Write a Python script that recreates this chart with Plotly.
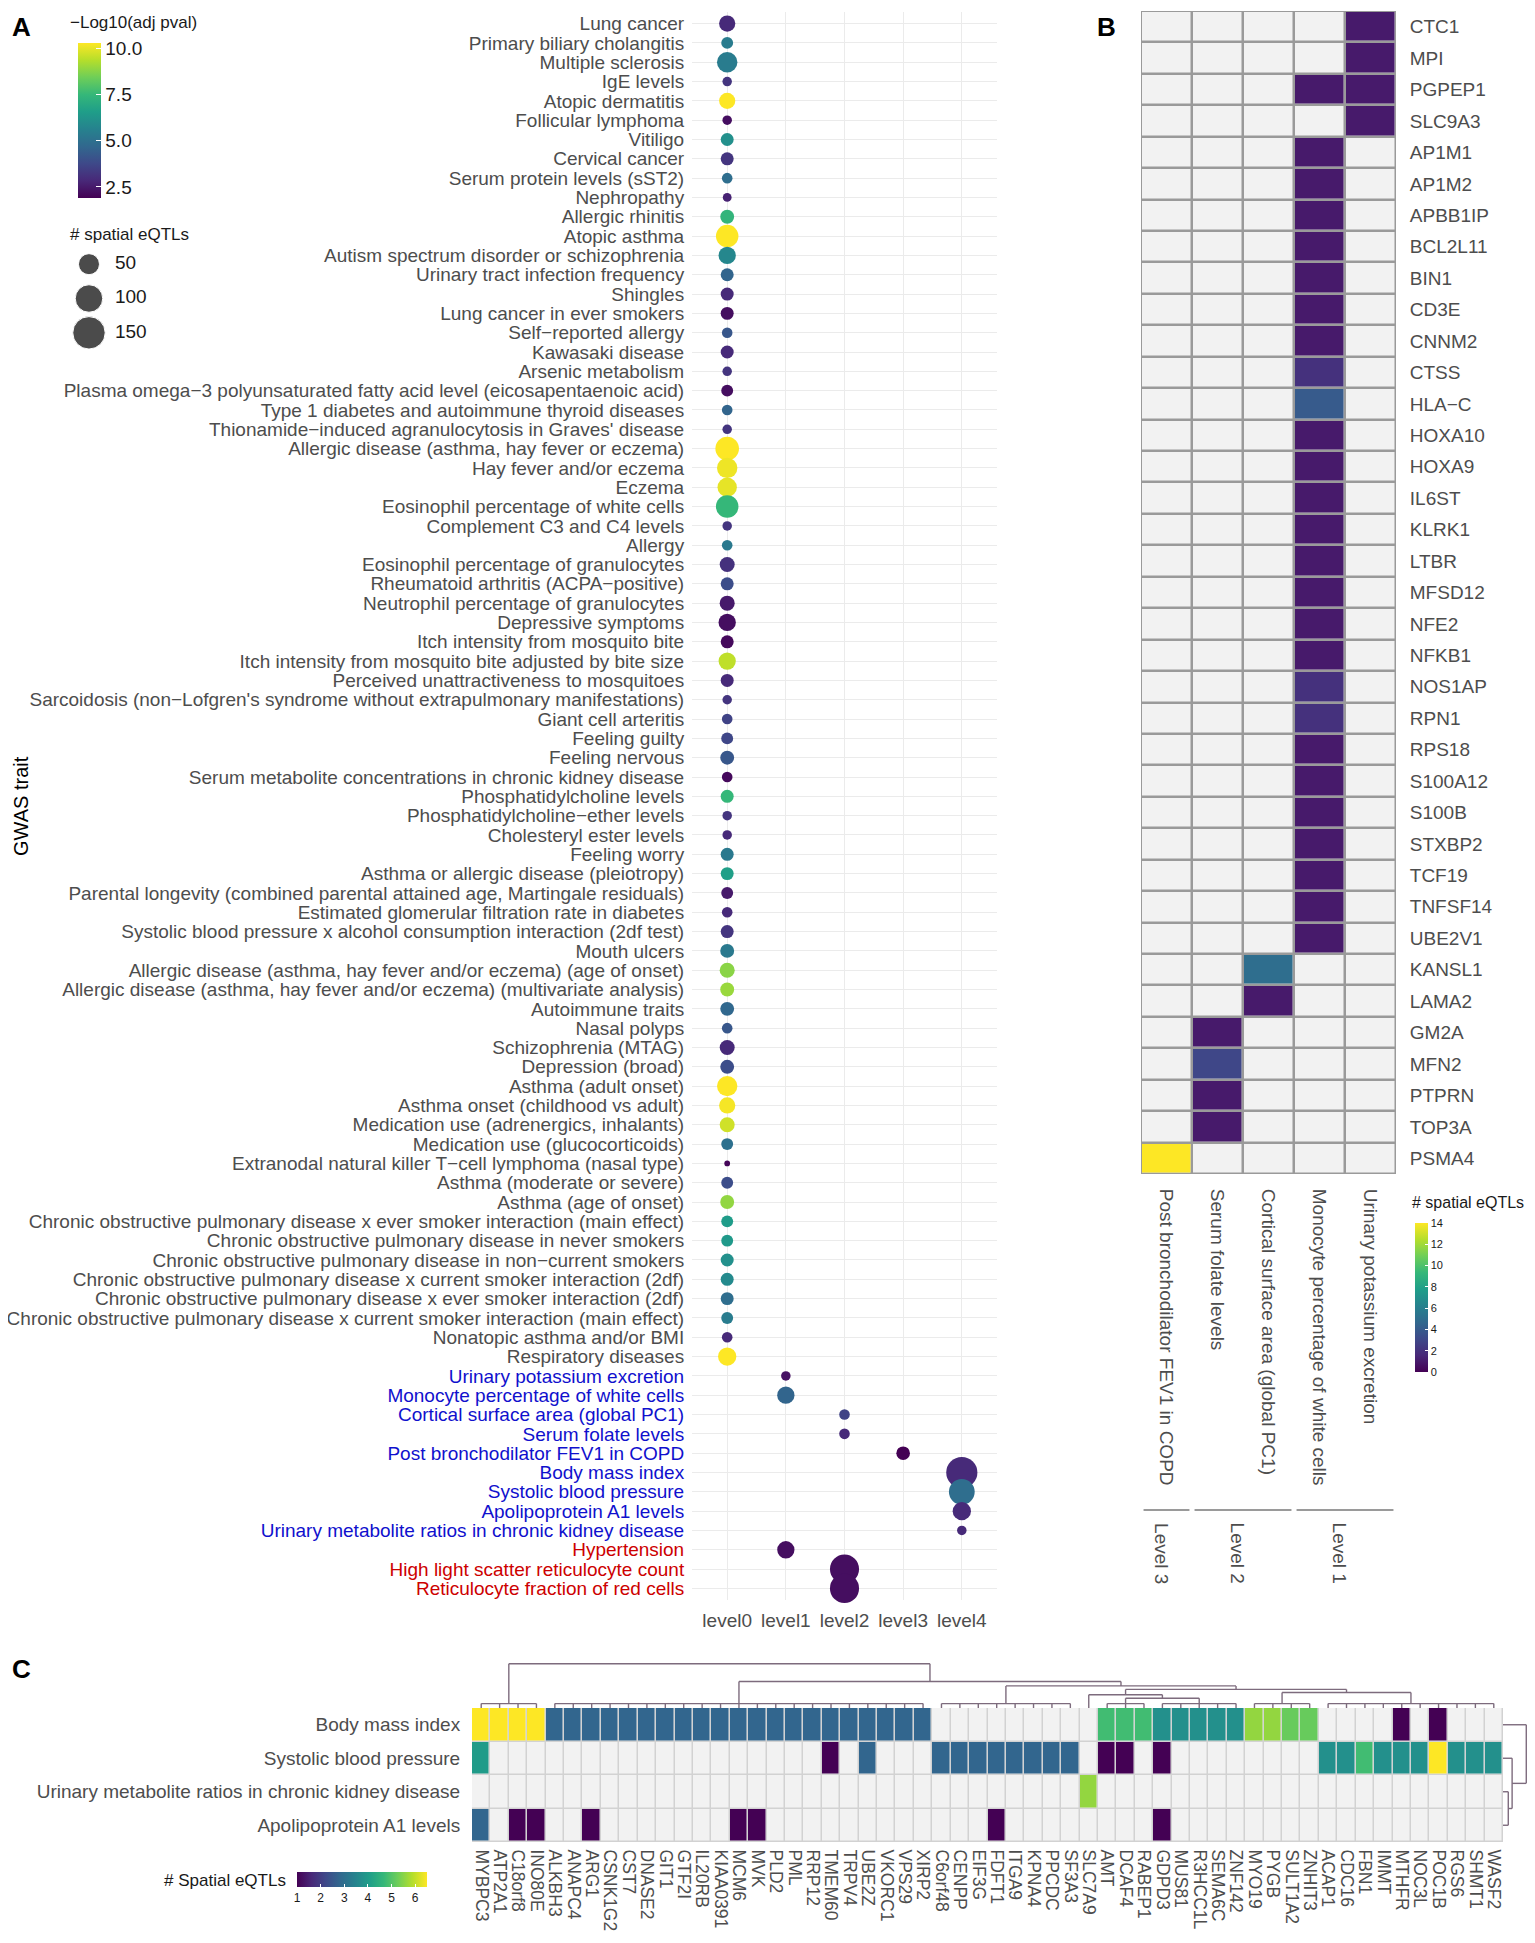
import math
import plotly.graph_objects as go

PAGE_W, PAGE_H = 1535, 1943
BODY = 8  # default page margin around the plot
W, H = PAGE_W - 2 * BODY, PAGE_H - 2 * BODY
FONT = "Liberation Sans"
GREY_TXT = "#4d4d4d"


def fx(x):
    return (x - BODY) / W


def fy(y):
    return 1 - (y - BODY) / H


# ---------------- Panel A data ----------------
traits = [
    "Lung cancer", "Primary biliary cholangitis", "Multiple sclerosis", "IgE levels",
    "Atopic dermatitis", "Follicular lymphoma", "Vitiligo", "Cervical cancer",
    "Serum protein levels (sST2)", "Nephropathy", "Allergic rhinitis", "Atopic asthma",
    "Autism spectrum disorder or schizophrenia", "Urinary tract infection frequency",
    "Shingles", "Lung cancer in ever smokers", "Self\u2212reported allergy", "Kawasaki disease",
    "Arsenic metabolism",
    "Plasma omega\u22123 polyunsaturated fatty acid level (eicosapentaenoic acid)",
    "Type 1 diabetes and autoimmune thyroid diseases",
    "Thionamide\u2212induced agranulocytosis in Graves' disease",
    "Allergic disease (asthma, hay fever or eczema)", "Hay fever and/or eczema", "Eczema",
    "Eosinophil percentage of white cells", "Complement C3 and C4 levels", "Allergy",
    "Eosinophil percentage of granulocytes", "Rheumatoid arthritis (ACPA\u2212positive)",
    "Neutrophil percentage of granulocytes", "Depressive symptoms",
    "Itch intensity from mosquito bite",
    "Itch intensity from mosquito bite adjusted by bite size",
    "Perceived unattractiveness to mosquitoes",
    "Sarcoidosis (non\u2212Lofgren's syndrome without extrapulmonary manifestations)",
    "Giant cell arteritis", "Feeling guilty", "Feeling nervous",
    "Serum metabolite concentrations in chronic kidney disease",
    "Phosphatidylcholine levels", "Phosphatidylcholine\u2212ether levels",
    "Cholesteryl ester levels", "Feeling worry", "Asthma or allergic disease (pleiotropy)",
    "Parental longevity (combined parental attained age, Martingale residuals)",
    "Estimated glomerular filtration rate in diabetes",
    "Systolic blood pressure x alcohol consumption interaction (2df test)",
    "Mouth ulcers",
    "Allergic disease (asthma, hay fever and/or eczema) (age of onset)",
    "Allergic disease (asthma, hay fever and/or eczema) (multivariate analysis)",
    "Autoimmune traits", "Nasal polyps", "Schizophrenia (MTAG)", "Depression (broad)",
    "Asthma (adult onset)", "Asthma onset (childhood vs adult)",
    "Medication use (adrenergics, inhalants)", "Medication use (glucocorticoids)",
    "Extranodal natural killer T\u2212cell lymphoma (nasal type)",
    "Asthma (moderate or severe)", "Asthma (age of onset)",
    "Chronic obstructive pulmonary disease x ever smoker interaction (main effect)",
    "Chronic obstructive pulmonary disease in never smokers",
    "Chronic obstructive pulmonary disease in non\u2212current smokers",
    "Chronic obstructive pulmonary disease x current smoker interaction (2df)",
    "Chronic obstructive pulmonary disease x ever smoker interaction (2df)",
    "Chronic obstructive pulmonary disease x current smoker interaction (main effect)",
    "Nonatopic asthma and/or BMI", "Respiratory diseases",
    "Urinary potassium excretion", "Monocyte percentage of white cells",
    "Cortical surface area (global PC1)", "Serum folate levels",
    "Post bronchodilator FEV1 in COPD", "Body mass index", "Systolic blood pressure",
    "Apolipoprotein A1 levels", "Urinary metabolite ratios in chronic kidney disease",
    "Hypertension", "High light scatter reticulocyte count",
    "Reticulocyte fraction of red cells",
]

trait_class = ["other"] * 70 + ["blue"] * 9 + ["red"] * 3

levels = ["level0", "level1", "level2", "level3", "level4"]
trait_level = [0] * 70 + [1, 1, 2, 2, 3, 4, 4, 4, 4, 1, 2, 2]

n_eqtl = [
    24, 9, 46, 4, 24, 4, 12, 12, 6, 3, 15, 60, 29, 12, 12, 12, 6, 12, 4, 9, 6, 4,
    68, 46, 40, 60, 4, 6, 19, 12, 19, 29, 12, 29, 12, 4, 6, 9, 15, 6, 12, 4, 4,
    12, 12, 9, 6, 12, 15, 19, 15, 15, 6, 19, 15, 46, 24, 19, 9, 1, 9, 15, 9, 9,
    12, 12, 12, 9, 6, 34,
    4, 29, 6, 6, 14, 136, 85, 34, 4, 29, 115, 115,
]

neg_log10_p = [
    2.9, 5.4, 5.4, 3.2, 10.3, 2.2, 6.1, 3.2, 4.9, 2.7, 7.4, 10.3, 5.8, 4.6, 2.9,
    2.2, 4.2, 2.9, 3.2, 2.2, 4.6, 3.2, 10.3, 10.1, 10.0, 7.5, 3.2, 5.3, 3.1, 3.9,
    2.5, 2.2, 2.1, 9.5, 2.9, 3.2, 3.6, 3.7, 4.2, 2.1, 7.5, 3.2, 2.9, 5.3, 6.6,
    2.5, 2.9, 3.2, 5.3, 8.8, 9.0, 4.7, 4.2, 2.9, 3.9, 10.3, 10.2, 9.7, 5.0, 2.0,
    3.9, 8.9, 6.5, 6.4, 6.1, 5.9, 4.9, 5.4, 2.9, 10.3,
    2.3, 4.6, 3.6, 2.9, 1.9, 2.9, 4.9, 2.9, 2.9, 2.2, 2.2, 2.2,
]

size_legend_values = [50, 100, 150]
colorbar_A_ticks = [2.5, 5.0, 7.5, 10.0]

# ---------------- Panel B data ----------------
B_traits = [
    "Post bronchodilator FEV1 in COPD", "Serum folate levels",
    "Cortical surface area (global PC1)", "Monocyte percentage of white cells",
    "Urinary potassium excretion",
]
B_genes = [
    "CTC1", "MPI", "PGPEP1", "SLC9A3", "AP1M1", "AP1M2", "APBB1IP", "BCL2L11", "BIN1",
    "CD3E", "CNNM2", "CTSS", "HLA\u2212C", "HOXA10", "HOXA9", "IL6ST", "KLRK1", "LTBR",
    "MFSD12", "NFE2", "NFKB1", "NOS1AP", "RPN1", "RPS18", "S100A12", "S100B", "STXBP2",
    "TCF19", "TNFSF14", "UBE2V1", "KANSL1", "LAMA2", "GM2A", "MFN2", "PTPRN", "TOP3A",
    "PSMA4",
]
B_post_bronch = {"PSMA4": 14}
B_serum_folate = {"GM2A": 1, "MFN2": 3, "PTPRN": 1, "TOP3A": 1}
B_cortical = {"KANSL1": 5, "LAMA2": 1}
B_monocyte = {
    "PGPEP1": 1, "AP1M1": 1, "AP1M2": 1, "APBB1IP": 1, "BCL2L11": 1, "BIN1": 1,
    "CD3E": 1, "CNNM2": 1, "CTSS": 2, "HLA\u2212C": 4, "HOXA10": 1, "HOXA9": 1,
    "IL6ST": 1, "KLRK1": 1, "LTBR": 1, "MFSD12": 1, "NFE2": 1, "NFKB1": 1,
    "NOS1AP": 2, "RPN1": 2, "RPS18": 1, "S100A12": 1, "S100B": 1, "STXBP2": 1,
    "TCF19": 1, "TNFSF14": 1, "UBE2V1": 1,
}
B_urinary_k = {"CTC1": 1, "MPI": 1, "PGPEP1": 1, "SLC9A3": 1}
B_columns = [B_post_bronch, B_serum_folate, B_cortical, B_monocyte, B_urinary_k]
B_level_groups = [("Level 3", [0]), ("Level 2", [1, 2]), ("Level 1", [3, 4])]
B_ticks = [0, 2, 4, 6, 8, 10, 12, 14]

# ---------------- Panel C data ----------------
C_rows = [
    "Body mass index", "Systolic blood pressure",
    "Urinary metabolite ratios in chronic kidney disease", "Apolipoprotein A1 levels",
]
C_genes = [
    "MYBPC3", "ATP2A1", "C18orf8", "INO80E", "ALKBH3", "ANAPC4", "ARG1", "CSNK1G2",
    "CST7", "DNASE2", "GIT1", "GTF2I", "IL20RB", "KIAA0391", "MCM6", "MVK", "PLD2",
    "PML", "RRP12", "TMEM60", "TRPV4", "UBE2Z", "VKORC1", "VPS29", "XIRP2", "C6orf48",
    "CENPP", "EIF3G", "FDFT1", "ITGA9", "KPNA4", "PPCDC", "SF3A3", "SLC7A9", "AMT",
    "DCAF4", "RABEP1", "GDPD3", "MUS81", "R3HCC1L", "SEMA6C", "ZNF142", "MYO19",
    "PYGB", "SULT1A2", "ZNHIT3", "ACAP1", "CDC16", "FBN1", "IMMT", "MTHFR", "NOC3L",
    "POC1B", "RGS6", "SHMT1", "WASF2",
]
C_bmi = {
    "MYBPC3": 6.5, "ATP2A1": 6.5, "C18orf8": 6.5, "INO80E": 6.5,
    "ALKBH3": 2.8, "ANAPC4": 2.8, "ARG1": 2.8, "CSNK1G2": 2.8, "CST7": 2.8,
    "DNASE2": 2.8, "GIT1": 2.8, "GTF2I": 2.8, "IL20RB": 2.8, "KIAA0391": 2.8,
    "MCM6": 2.8, "MVK": 2.8, "PLD2": 2.8, "PML": 2.8, "RRP12": 2.8, "TMEM60": 2.8,
    "TRPV4": 2.8, "UBE2Z": 2.8, "VKORC1": 2.8, "VPS29": 2.8, "XIRP2": 2.8,
    "AMT": 4.8, "DCAF4": 4.8, "RABEP1": 4.8,
    "GDPD3": 3.75, "MUS81": 3.75, "R3HCC1L": 3.75, "SEMA6C": 3.75, "ZNF142": 3.75,
    "MYO19": 5.6, "PYGB": 5.6, "SULT1A2": 5.2, "ZNHIT3": 5.2,
    "MTHFR": 1, "POC1B": 1,
}
C_sbp = {
    "MYBPC3": 4.0, "TMEM60": 1, "UBE2Z": 2.8,
    "C6orf48": 2.8, "CENPP": 2.8, "EIF3G": 2.8, "FDFT1": 2.8, "ITGA9": 2.8,
    "KPNA4": 2.8, "PPCDC": 2.8, "SF3A3": 2.8,
    "AMT": 1, "DCAF4": 1, "GDPD3": 1,
    "ACAP1": 3.75, "CDC16": 3.75, "FBN1": 4.8, "IMMT": 3.75, "MTHFR": 3.75,
    "NOC3L": 3.75, "POC1B": 6.5, "RGS6": 3.75, "SHMT1": 3.75, "WASF2": 3.75,
}
C_urinary = {"SLC7A9": 5.6}
C_apoa1 = {
    "MYBPC3": 2.8, "C18orf8": 1, "INO80E": 1, "ARG1": 1, "MCM6": 1, "MVK": 1,
    "FDFT1": 1, "GDPD3": 1,
}
C_row_values = [C_bmi, C_sbp, C_urinary, C_apoa1]
C_ticks = [1, 2, 3, 4, 5, 6]

# dendrogram topology: [merge height, child, child, ...]; ints are leaf indices
C_col_tree = [
    1.0,
    [0.1, 0, 1, 2, 3],
    [0.6,
     [0.1] + list(range(4, 25)),
     [0.5,
      [0.1] + list(range(25, 33)),
      [0.42,
       [0.3, 33, [0.22, [0.1, 34, 35, 36], [0.1] + list(range(37, 42))]],
       [0.35, [0.1] + list(range(42, 46)), [0.1] + list(range(46, 56))]]]],
]
C_row_tree = [0.97, 0, [0.38, 1, [0.22, 2, 3]]]

# ---------------- helpers ----------------
SIZE_MIN, SIZE_MAX = 1, 170


def dot_diameter(v):
    s = math.sqrt(max(v - SIZE_MIN, 0) / (SIZE_MAX - SIZE_MIN))
    return 5.7 * (1 + 5 * s)


def dendro(node):
    if isinstance(node, int):
        return node, 0.0, []
    h = node[0]
    segs, centers = [], []
    for ch in node[1:]:
        c, ch_h, s = dendro(ch)
        segs += s
        segs.append(((c, ch_h), (c, h)))
        centers.append(c)
    segs.append(((min(centers), h), (max(centers), h)))
    return (centers[0] + centers[-1]) / 2, h, segs


def seg_xy(segs, swap=False):
    xs, ys = [], []
    for (a, b), (c, d) in segs:
        if swap:
            xs += [b, d, None]
            ys += [a, c, None]
        else:
            xs += [a, c, None]
            ys += [b, d, None]
    return xs, ys


color_map = {"other": GREY_TXT, "blue": "#1010cd", "red": "#cd0000"}
ticktext_A = [
    f'<span style="color:{color_map[c]}">{t}</span>' for t, c in zip(traits, trait_class)
]

fig = go.Figure()

# Panel A dots
fig.add_trace(go.Scatter(
    x=trait_level, y=list(range(1, len(traits) + 1)), mode="markers",
    marker=dict(
        size=[dot_diameter(v) for v in n_eqtl], color=neg_log10_p,
        colorscale="Viridis", cmin=1.9, cmax=10.3, line=dict(width=0), opacity=1,
        colorbar=dict(
            x=fx(78), xanchor="left", y=fy(43), yanchor="top", len=155,
            lenmode="pixels", thickness=23, xpad=0, ypad=0, outlinewidth=0,
            tickvals=colorbar_A_ticks, ticktext=[f"{v:.1f}" for v in colorbar_A_ticks],
            ticks="inside", tickcolor="white", ticklen=5,
            tickfont=dict(size=19, color="#1a1a1a", family=FONT),
        ),
    ),
    xaxis="x", yaxis="y", showlegend=False, hoverinfo="skip", cliponaxis=False,
))

# Panel A size legend
fig.add_trace(go.Scatter(
    x=[0.146] * 3, y=list(range(len(size_legend_values))), mode="markers",
    marker=dict(size=[dot_diameter(v) for v in size_legend_values], color="black"),
    xaxis="x2", yaxis="y2", showlegend=False, hoverinfo="skip", cliponaxis=False,
))
fig.add_trace(go.Scatter(
    x=[0.346] * 3, y=list(range(len(size_legend_values))), mode="text",
    text=[str(v) for v in size_legend_values], textposition="middle right",
    textfont=dict(size=19, color="#1a1a1a", family=FONT),
    xaxis="x2", yaxis="y2", showlegend=False, hoverinfo="skip", cliponaxis=False,
))

# Panel B heatmap
zB = [[col.get(g) for col in B_columns] for g in B_genes]
fig.add_trace(go.Heatmap(
    z=[[0] * len(B_traits) for _ in B_genes], x=list(range(len(B_traits))),
    y=list(range(len(B_genes))), colorscale=[[0, "#f2f2f2"], [1, "#f2f2f2"]],
    showscale=False, xgap=2.5, ygap=2.5, xaxis="x3", yaxis="y3", hoverinfo="skip",
))
fig.add_trace(go.Heatmap(
    z=zB, x=list(range(len(B_traits))), y=list(range(len(B_genes))),
    colorscale="Viridis", zmin=0, zmax=14, xgap=2.5, ygap=2.5,
    xaxis="x3", yaxis="y3", hoverinfo="skip",
    colorbar=dict(
        x=fx(1415), xanchor="left", y=fy(1223), yanchor="top", len=149,
        lenmode="pixels", thickness=13, xpad=0, ypad=0, outlinewidth=0,
        tickvals=B_ticks, ticks="inside", tickcolor="white", ticklen=3,
        tickfont=dict(size=11, color="#1a1a1a", family=FONT),
    ),
))

# Panel C heatmap
zC = [[row.get(g) for g in C_genes] for row in C_row_values]
fig.add_trace(go.Heatmap(
    z=[[0] * len(C_genes) for _ in C_rows], x=list(range(len(C_genes))),
    y=list(range(len(C_rows))), colorscale=[[0, "#f2f2f2"], [1, "#f2f2f2"]],
    showscale=False, xgap=1.5, ygap=1.5, xaxis="x4", yaxis="y4", hoverinfo="skip",
))
fig.add_trace(go.Heatmap(
    z=zC, x=list(range(len(C_genes))), y=list(range(len(C_rows))),
    colorscale="Viridis", zmin=1, zmax=6.5, xgap=1.5, ygap=1.5,
    xaxis="x4", yaxis="y4", hoverinfo="skip",
    colorbar=dict(
        orientation="h", x=fx(297), xanchor="left", y=fy(1872), yanchor="top",
        len=130, lenmode="pixels", thickness=15, xpad=0, ypad=0, outlinewidth=0,
        tickvals=C_ticks, ticks="inside", tickcolor="white", ticklen=3,
        tickfont=dict(size=12, color="#1a1a1a", family=FONT),
    ),
))

# Panel C dendrograms
_, _, col_segs = dendro(C_col_tree)
dx, dy = seg_xy(col_segs)
fig.add_trace(go.Scatter(
    x=dx, y=dy, mode="lines", line=dict(color="#7d6b7d", width=1.4),
    xaxis="x5", yaxis="y5", showlegend=False, hoverinfo="skip", cliponaxis=False,
))
_, _, row_segs = dendro(C_row_tree)
rx, ry = seg_xy(row_segs, swap=True)
fig.add_trace(go.Scatter(
    x=rx, y=ry, mode="lines", line=dict(color="#7d6b7d", width=1.4),
    xaxis="x6", yaxis="y6", showlegend=False, hoverinfo="skip", cliponaxis=False,
))

tick_font = dict(size=19, color=GREY_TXT, family=FONT)
tick_font_c = dict(size=17.5, color=GREY_TXT, family=FONT)
hidden = dict(visible=False, fixedrange=True)

layout = dict(
    width=W, height=H, margin=dict(l=0, r=0, t=0, b=0),
    paper_bgcolor="white", plot_bgcolor="white",
    font=dict(family=FONT, color="#1a1a1a"),
    xaxis=dict(
        domain=[fx(692), fx(997)], range=[-0.6, 4.6], tickvals=list(range(5)),
        ticktext=levels, showgrid=True, gridcolor="#ebebeb", gridwidth=1.3,
        zeroline=False, ticks="outside", ticklen=3, tickcolor="rgba(0,0,0,0)",
        tickfont=tick_font, anchor="y", automargin=False, fixedrange=True,
    ),
    yaxis=dict(
        domain=[fy(1600), fy(12)], range=[len(traits) + 0.6, 0.4],
        tickvals=list(range(1, len(traits) + 1)), ticktext=ticktext_A,
        showgrid=True, gridcolor="#ebebeb", gridwidth=1.3, zeroline=False,
        ticks="outside", ticklen=3, tickcolor="rgba(0,0,0,0)",
        tickfont=tick_font, anchor="x", automargin=False, fixedrange=True,
    ),
    xaxis2=dict(domain=[fx(70), fx(200)], range=[0, 1], anchor="y2", **hidden),
    yaxis2=dict(domain=[fy(350), fy(247)], range=[2.5, -0.5], anchor="x2", **hidden),
    xaxis3=dict(
        domain=[fx(1141), fx(1396)], range=[-0.5, 4.5], tickvals=list(range(5)),
        ticktext=B_traits, tickangle=90, showgrid=False, zeroline=False,
        ticks="outside", ticklen=10, tickcolor="rgba(0,0,0,0)", tickfont=tick_font,
        anchor="y3", automargin=False, fixedrange=True,
    ),
    yaxis3=dict(
        domain=[fy(1174), fy(11)], range=[len(B_genes) - 0.5, -0.5],
        tickvals=list(range(len(B_genes))), ticktext=B_genes, side="right",
        showgrid=False, zeroline=False, ticks="outside", ticklen=9,
        tickcolor="rgba(0,0,0,0)", tickfont=tick_font, anchor="x3",
        automargin=False, fixedrange=True,
    ),
    xaxis4=dict(
        domain=[fx(472), fx(1503)], range=[-0.5, len(C_genes) - 0.5],
        tickvals=list(range(len(C_genes))), ticktext=C_genes, tickangle=90,
        showgrid=False, zeroline=False, ticks="outside", ticklen=3,
        tickcolor="rgba(0,0,0,0)", tickfont=tick_font_c, anchor="y4",
        automargin=False, fixedrange=True,
    ),
    yaxis4=dict(
        domain=[fy(1842), fy(1708)], range=[len(C_rows) - 0.5, -0.5],
        tickvals=list(range(len(C_rows))), ticktext=C_rows, showgrid=False,
        zeroline=False, ticks="outside", ticklen=7, tickcolor="rgba(0,0,0,0)",
        tickfont=tick_font, anchor="x4", automargin=False, fixedrange=True,
    ),
    xaxis5=dict(domain=[fx(472), fx(1503)], range=[-0.5, len(C_genes) - 0.5],
                anchor="y5", **hidden),
    yaxis5=dict(domain=[fy(1708), fy(1662)], range=[0, 1.04], anchor="x5", **hidden),
    xaxis6=dict(domain=[fx(1503), 1.0], range=[0, 1.0], anchor="y6", **hidden),
    yaxis6=dict(domain=[fy(1842), fy(1708)], range=[len(C_rows) - 0.5, -0.5],
                anchor="x6", **hidden),
)

shapes = [
    dict(type="rect", xref="x3", yref="y3", x0=-0.5, x1=len(B_traits) - 0.5,
         y0=-0.5, y1=len(B_genes) - 0.5, fillcolor="#9a9a9a",
         line=dict(width=2, color="#9a9a9a"), layer="below"),
    dict(type="rect", xref="x4", yref="y4", x0=-0.5, x1=len(C_genes) - 0.5,
         y0=-0.5, y1=len(C_rows) - 0.5, fillcolor="#d2d2d2",
         line=dict(width=0), layer="below"),
]
annotations = [
    dict(text="<b>A</b>", x=fx(10), y=fy(10), xref="paper", yref="paper",
         xanchor="left", yanchor="top", showarrow=False,
         font=dict(size=26, color="black", family=FONT)),
    dict(text="<b>B</b>", x=fx(1095), y=fy(10), xref="paper", yref="paper",
         xanchor="left", yanchor="top", showarrow=False,
         font=dict(size=26, color="black", family=FONT)),
    dict(text="<b>C</b>", x=fx(10), y=fy(1652), xref="paper", yref="paper",
         xanchor="left", yanchor="top", showarrow=False,
         font=dict(size=26, color="black", family=FONT)),
    dict(text="GWAS trait", x=fx(21), y=fy(806), xref="paper", yref="paper",
         textangle=-90, showarrow=False, xanchor="center", yanchor="middle",
         font=dict(size=20, color="black", family=FONT)),
    dict(text="\u2212Log10(adj pval)", x=fx(68), y=fy(22), xref="paper", yref="paper",
         xanchor="left", yanchor="middle", showarrow=False,
         font=dict(size=17, color="#1a1a1a", family=FONT)),
    dict(text="# spatial eQTLs", x=fx(68), y=fy(235), xref="paper", yref="paper",
         xanchor="left", yanchor="middle", showarrow=False,
         font=dict(size=17, color="#1a1a1a", family=FONT)),
    dict(text="# spatial eQTLs", x=fx(1410), y=fy(1202), xref="paper", yref="paper",
         xanchor="left", yanchor="middle", showarrow=False,
         font=dict(size=16, color="#1a1a1a", family=FONT)),
    dict(text="# Spatial eQTLs", x=fx(288), y=fy(1880), xref="paper", yref="paper",
         xanchor="right", yanchor="middle", showarrow=False,
         font=dict(size=17, color="#1a1a1a", family=FONT)),
]

for label, cols in B_level_groups:
    x0 = cols[0] - 0.45
    x1 = cols[-1] + 0.45
    shapes.append(dict(type="line", xref="x3", yref="paper", x0=x0, x1=x1,
                       y0=fy(1510), y1=fy(1510), line=dict(color="#9a9a9a", width=2)))
    annotations.append(dict(
        text=label, x=(cols[0] + cols[-1]) / 2 - 0.1, y=fy(1521), xref="x3",
        yref="paper", textangle=90, xanchor="center", yanchor="top",
        showarrow=False, font=tick_font))

layout["shapes"] = shapes
layout["annotations"] = annotations
fig.update_layout(**layout)

fig.write_html("out.html")
